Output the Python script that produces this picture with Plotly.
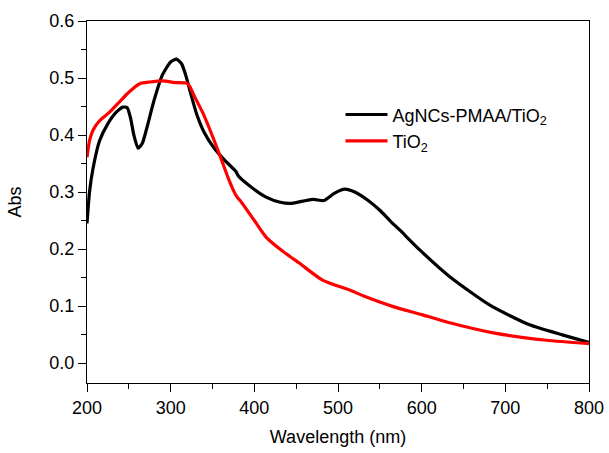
import plotly.graph_objects as go

# AgNCs-PMAA/TiO2 spectrum
ag_x = [200, 203, 207, 215, 225, 235, 243, 248, 252, 256, 261, 266, 272, 280, 290, 300, 307, 313,
        318, 323, 331, 340, 351, 365, 378, 381, 395, 414, 431, 443, 458, 471, 483, 495, 503, 508,
        520, 538, 550, 562, 574, 598, 634, 681, 729, 769, 800]
ag_y = [0.245, 0.30, 0.34, 0.39, 0.42, 0.44, 0.449, 0.448, 0.43, 0.40, 0.377, 0.385, 0.415, 0.46,
        0.505, 0.528, 0.533, 0.525, 0.505, 0.478, 0.437, 0.405, 0.379, 0.355, 0.336, 0.328, 0.31,
        0.291, 0.282, 0.280, 0.284, 0.287, 0.285, 0.297, 0.303, 0.305, 0.300, 0.283, 0.268, 0.25,
        0.233, 0.198, 0.151, 0.102, 0.067, 0.049, 0.036]

# TiO2 spectrum
ti_x = [200, 203, 207, 215, 227, 240, 250, 263, 275, 291, 305, 319, 323, 327, 339, 355, 370, 377,
        380, 383, 400, 414, 434, 454, 482, 514, 530, 566, 600, 630, 689, 749, 800]
ti_y = [0.361, 0.39, 0.408, 0.425, 0.44, 0.46, 0.475, 0.49, 0.493, 0.495, 0.492, 0.491, 0.485,
        0.472, 0.437, 0.379, 0.32, 0.297, 0.29, 0.285, 0.25, 0.221, 0.196, 0.175, 0.145, 0.128,
        0.118, 0.099, 0.085, 0.072, 0.052, 0.040, 0.034]

x_ticks = [200, 300, 400, 500, 600, 700, 800]
y_ticks = [0.0, 0.1, 0.2, 0.3, 0.4, 0.5, 0.6]

FONT = "Liberation Sans, Arial, sans-serif"
FS = 18

fig = go.Figure()
fig.add_trace(go.Scatter(x=ag_x, y=ag_y, mode="lines", name="AgNCs-PMAA/TiO<sub>2</sub>",
                         line=dict(color="black", width=3.2, shape="spline", smoothing=0.6),
                         legendgroup="a"))
fig.add_trace(go.Scatter(x=ti_x, y=ti_y, mode="lines", name="TiO<sub>2</sub>",
                         line=dict(color="#ff0000", width=3.2, shape="spline", smoothing=0.6),
                         legendgroup="b"))

axis_common = dict(showline=True, linecolor="black", linewidth=1.3, mirror=True,
                   ticks="outside", ticklen=8, tickwidth=1.3, tickcolor="black",
                   showgrid=False, zeroline=False, automargin=False,
                   tickfont=dict(family=FONT, size=FS, color="black"),
                   minor=dict(ticks="outside", ticklen=5, tickwidth=1.3, tickcolor="black"))

fig.update_xaxes(range=[200, 800], tickvals=x_ticks, title=dict(text="Wavelength (nm)",
                 font=dict(family=FONT, size=FS, color="black"), standoff=13),
                 minor_dtick=50, **axis_common)
fig.update_yaxes(range=[-0.035, 0.6], tickvals=y_ticks, tickformat=".1f",
                 title=dict(text="Abs", font=dict(family=FONT, size=FS, color="black"), standoff=22),
                 minor_tickvals=[-0.05 + 0.1 * i for i in range(7)], **axis_common)

fig.update_layout(
    width=609, height=453,
    margin=dict(l=87, r=20, t=21, b=70),
    paper_bgcolor="white", plot_bgcolor="white",
    showlegend=True,
    legend=dict(x=0.505, y=0.792, xanchor="left", yanchor="top",
                font=dict(family=FONT, size=FS, color="black"),
                bgcolor="rgba(0,0,0,0)", tracegroupgap=0, itemwidth=42),
)

fig.write_html("out.html")
